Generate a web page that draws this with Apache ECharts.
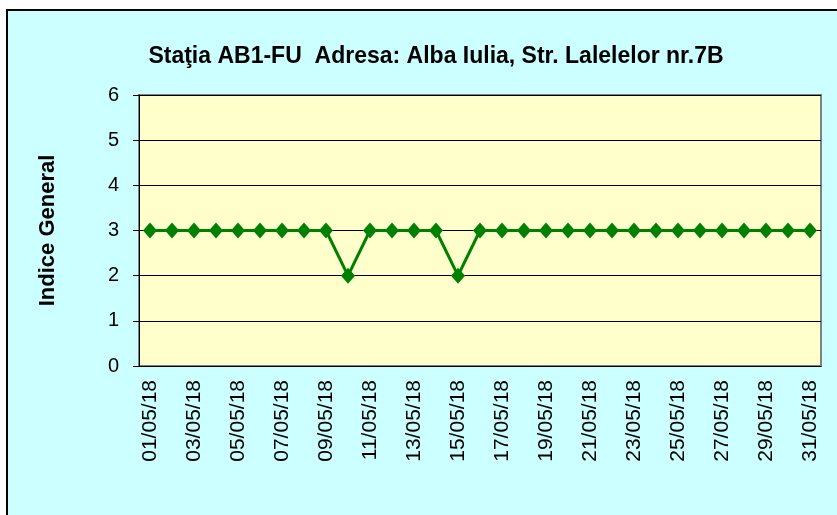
<!DOCTYPE html>
<html>
<head>
<meta charset="utf-8">
<script src="https://cdn.jsdelivr.net/npm/echarts@6/dist/echarts.min.js"></script>
<style>
  html, body { margin: 0; padding: 0; background: #fff; }
  #main { width: 837px; height: 515px; }
</style>
</head>
<body>
<div id="main"></div>
<script>
// zilele lunii mai 2018
var days = [];
for (var d = 1; d <= 31; d++) {
  days.push((d < 10 ? '0' + d : '' + d) + '/05/18');
}
// indice general pe zile
var indice = [3, 3, 3, 3, 3, 3, 3, 3, 3, 2, 3, 3, 3, 3, 2, 3, 3, 3, 3, 3, 3, 3, 3, 3, 3, 3, 3, 3, 3, 3, 3];
var yTicks = [0, 1, 2, 3, 4, 5, 6];

var chart = echarts.init(document.getElementById('main'));

chart.setOption({
  animation: false,
  backgroundColor: '#fff',
  graphic: [{
    type: 'rect',
    z: -10,
    shape: { x: 7, y: 10, width: 840, height: 520 },
    style: { fill: '#CCFFFF', stroke: '#000', lineWidth: 2 }
  }],
  title: {
    text: 'Staţia AB1-FU  Adresa: Alba Iulia, Str. Lalelelor nr.7B',
    left: 431,
    top: 40,
    textAlign: 'center',
    textStyle: { fontFamily: 'Liberation Sans, Arial', fontSize: 23, fontWeight: 'bold', color: '#000' }
  },
  grid: {
    left: 139, right: 16, top: 95, bottom: 149,
    show: true,
    backgroundColor: '#FFFFCC',
    borderColor: '#808080',
    borderWidth: 2
  },
  xAxis: {
    type: 'category',
    data: days,
    boundaryGap: true,
    axisLine: { lineStyle: { color: '#000', width: 1 } },
    axisTick: { interval: 1, length: 6, lineStyle: { color: '#000' } },
    axisLabel: {
      interval: 1,
      rotate: 90,
      margin: 14,
      fontFamily: 'Liberation Sans, Arial',
      fontSize: 21,
      color: '#000'
    },
    splitLine: { show: false }
  },
  yAxis: {
    type: 'value',
    min: yTicks[0],
    max: yTicks[yTicks.length - 1],
    interval: 1,
    name: 'Indice General',
    nameLocation: 'middle',
    nameGap: 80,
    nameTextStyle: { fontFamily: 'Liberation Sans, Arial', fontSize: 22, fontWeight: 'bold', color: '#000' },
    axisLine: { show: true, lineStyle: { color: '#000' } },
    axisTick: { show: true, length: 6, lineStyle: { color: '#000' } },
    axisLabel: { fontFamily: 'Liberation Sans, Arial', fontSize: 20, color: '#000', margin: 20 },
    splitLine: { lineStyle: { color: '#000', width: 1 } }
  },
  series: [{
    type: 'line',
    data: indice,
    showAllSymbol: true,
    symbol: 'diamond',
    symbolSize: [14, 16],
    lineStyle: { color: '#008000', width: 3 },
    itemStyle: { color: '#008000' }
  }]
});
</script>
</body>
</html>
